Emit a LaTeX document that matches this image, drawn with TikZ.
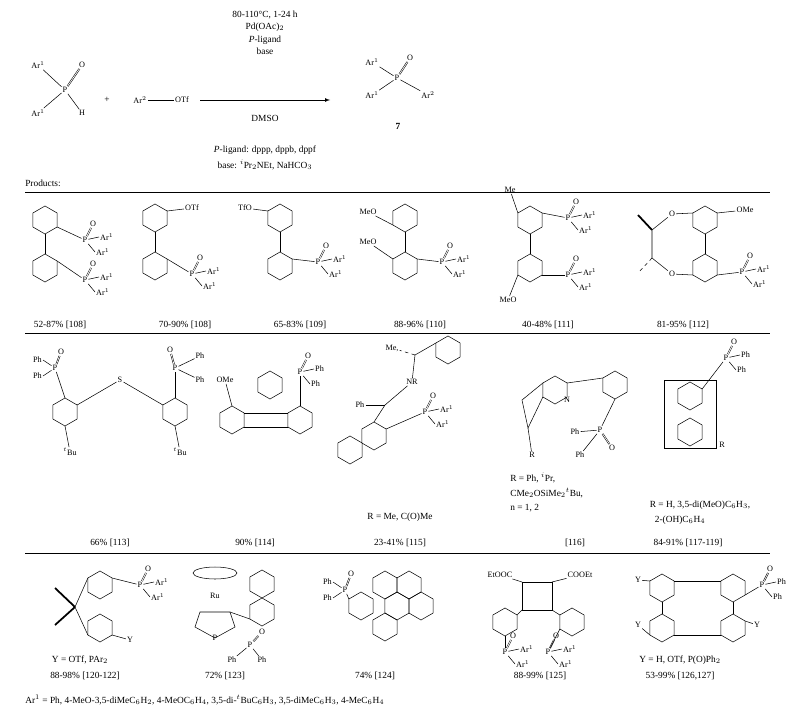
\documentclass[tikz,border=0pt]{standalone}
\usepackage{fontspec}
\setmainfont{Liberation Serif}
\usetikzlibrary{arrows,positioning,calc}

\newcommand{\rr}{14}
% ring of six bonds, centre named
\newcommand{\hexa}[3]{\coordinate (#1) at (#2,#3);
  \draw[shift={(#2,#3)}] (30:\rr)--(90:\rr)--(150:\rr)--(210:\rr)--(270:\rr)--(330:\rr)--cycle;}
% ring vertex
\newcommand{\vx}[2]{($(#1)+(#2:\rr)$)}
% phosphine oxide P(O)R2
\newcommand{\phos}[5]{\node[atom] (#1) at (#2,#3) {P};
  \node[atom] (#1o) at (#2+8,#3-16) {O};
  \node[atom,anchor=west] (#1a) at (#2+14,#3-3) {#4};
  \node[atom,anchor=west] (#1b) at (#2+10,#3+12) {#5};
  \draw[double] (#1) -- (#1o);
  \draw (#1) -- (#1a.west);
  \draw (#1) -- (#1b.west);}
% P(O)Ph2 with both Ph on the left
\newcommand{\phosl}[3]{\node[atom] (#1) at (#2,#3) {P};
  \node[atom] (#1o) at (#2+6,#3-16) {O};
  \node[atom,anchor=east] (#1a) at (#2-12,#3-8) {Ph};
  \node[atom,anchor=east] (#1b) at (#2-12,#3+8) {Ph};
  \draw[double] (#1) -- (#1o);
  \draw (#1) -- (#1a.east);
  \draw (#1) -- (#1b.east);}

\begin{document}
\begin{tikzpicture}[x=0.03cm, y=-0.03cm, line width=0.45pt, font=\footnotesize,
  atom/.style={inner sep=0.8pt, font=\scriptsize},
  txt/.style={inner sep=0pt, font=\footnotesize},
  sep/.style={line width=0.5pt}]
\useasboundingbox (0,0) rectangle (795,708);

% reaction
\node[atom] (ra1) at (38,65) {Ar$^1$};
\node[atom] (ra2) at (38,113) {Ar$^1$};
\node[atom] (rp) at (65,90) {P};
\node[atom] (ro) at (82,65) {O};
\node[atom] (rh) at (82,113) {H};
\draw (ra1) -- (rp); \draw (ra2) -- (rp); \draw (rp) -- (rh); \draw[double] (rp) -- (ro);
\node[txt] (plus) at (107,100) {+};
\node[atom] (ar2) at (140,100) {Ar$^2$};
\node[atom] (otf) at (182,100) {OTf};
\draw (ar2) -- (otf);
\node[txt] (c1) at (265,15) {80-110°C, 1-24 h};
\node[txt,below=3pt of c1] (c2) {Pd(OAc)$_2$};
\node[txt,below=3pt of c2] (c3) {\emph{P}-ligand};
\node[txt,below=3pt of c3] (c4) {base};
\node[txt] (c5) at (265,118) {DMSO};
\coordinate (arS) at (200,100);
\coordinate (arE) at (330,100);
\draw[-latex] (arS) -- (arE);
\node[atom] (pa1) at (372,62) {Ar$^1$};
\node[atom] (pa2) at (372,95) {Ar$^1$};
\node[atom] (pp) at (397,78) {P};
\node[atom] (po) at (410,58) {O};
\node[atom] (pa3) at (428,95) {Ar$^2$};
\draw (pa1) -- (pp); \draw (pa2) -- (pp); \draw (pp) -- (pa3); \draw[double] (pp) -- (po);
\node[txt,font=\footnotesize\bfseries] (seven) at (398,126) {7};
\node[txt] (lig) at (265,150) {\emph{P}-ligand: dppp, dppb, dppf};
\node[txt] (bas) at (265,165) {base: $^i$Pr$_2$NEt, NaHCO$_3$};
\node[txt,anchor=west] (prod) at (25,183) {Products:};

\draw[sep] (25,192) -- (770,192);
\draw[sep] (25,333) -- (770,333);
\draw[sep] (25,553) -- (770,553);

% row 1
\hexa{a1}{45}{220} \hexa{a2}{45}{268} \draw \vx{a1}{90} -- \vx{a2}{270};
\phos{p1}{85}{240}{Ar$^1$}{Ar$^1$} \phos{p2}{85}{280}{Ar$^1$}{Ar$^1$}
\draw \vx{a1}{30} -- (p1); \draw \vx{a2}{330} -- (p2);
\node[txt] (y1) at (60,325) {52-87\% [108]};

\hexa{b1}{155}{218} \hexa{b2}{155}{266} \draw \vx{b1}{90} -- \vx{b2}{270};
\node[atom] (b1o) at (192,208) {OTf}; \draw \vx{b1}{330} -- (b1o);
\phos{p3}{192}{274}{Ar$^1$}{Ar$^1$} \draw \vx{b2}{330} -- (p3);
\node[txt] (y2) at (185,325) {70-90\% [108]};

\hexa{c1r}{280}{218} \hexa{c2r}{280}{266} \draw \vx{c1r}{90} -- \vx{c2r}{270};
\node[atom] (c1o) at (245,208) {TfO}; \draw \vx{c1r}{210} -- (c1o);
\phos{p4}{318}{262}{Ar$^1$}{Ar$^1$} \draw \vx{c2r}{330} -- (p4);
\node[txt] (y3) at (300,325) {65-83\% [109]};

\hexa{d1}{405}{218} \hexa{d2}{405}{266} \draw \vx{d1}{90} -- \vx{d2}{270};
\node[atom] (d1o) at (368,212) {MeO}; \draw \vx{d1}{150} -- (d1o);
\node[atom] (d2o) at (368,242) {MeO}; \draw \vx{d2}{210} -- (d2o);
\phos{p5}{442}{262}{Ar$^1$}{Ar$^1$} \draw \vx{d2}{330} -- (p5);
\node[txt] (y4) at (420,325) {88-96\% [110]};

\hexa{e1}{530}{220} \hexa{e2}{530}{268} \draw \vx{e1}{90} -- \vx{e2}{270};
\node[atom] (eme) at (510,190) {Me}; \draw \vx{e1}{210} -- (eme);
\node[atom] (emo) at (508,300) {MeO}; \draw \vx{e2}{150} -- (emo);
\phos{p6}{568}{218}{Ar$^1$}{Ar$^1$} \phos{p7}{568}{275}{Ar$^1$}{Ar$^1$}
\draw \vx{e1}{330} -- (p6); \draw \vx{e2}{30} -- (p7);
\node[txt] (y5) at (548,325) {40-48\% [111]};

\hexa{f1}{705}{220} \hexa{f2}{705}{268} \draw \vx{f1}{90} -- \vx{f2}{270};
\node[atom] (fo1) at (672,214) {O}; \node[atom] (fo2) at (672,274) {O};
\draw \vx{f1}{210} -- (fo1); \draw \vx{f2}{150} -- (fo2);
\coordinate (fc1) at (652,230); \coordinate (fc2) at (652,258);
\draw (fo1) -- (fc1) -- (fc2) -- (fo2);
\draw[line width=1.5pt] (fc1) -- (638,215); \draw[dashed] (fc2) -- (638,273);
\node[atom] (fme) at (745,210) {OMe}; \draw \vx{f1}{330} -- (fme);
\phos{p8}{742}{272}{Ar$^1$}{Ar$^1$} \draw \vx{f2}{30} -- (p8);
\node[txt] (y6) at (683,325) {81-95\% [112]};

% row 2
\hexa{g1}{65}{412} \hexa{g2}{175}{412}
\node[atom] (gs) at (120,380) {S};
\draw \vx{g1}{330} -- (gs); \draw \vx{g2}{210} -- (gs);
\phosl{gp1}{55}{368}
\draw \vx{g1}{270} -- (gp1);
\node[atom] (gp2) at (175,368) {P}; \node[atom] (go2) at (170,350) {O};
\node[atom] (gh3) at (200,356) {Ph}; \node[atom] (gh4) at (200,380) {Ph};
\draw[double] (gp2) -- (go2); \draw (gp2) -- (gh3); \draw (gp2) -- (gh4);
\draw \vx{g2}{270} -- (gp2);
\node[atom] (gb1) at (70,452) {$^t$Bu}; \node[atom] (gb2) at (180,452) {$^t$Bu};
\draw \vx{g1}{90} -- (gb1); \draw \vx{g2}{90} -- (gb2);
\node[txt] (y7) at (110,543) {66\% [113]};

\hexa{h1}{232}{420} \hexa{h2}{300}{420}
\draw \vx{h1}{330} -- \vx{h2}{210}; \draw \vx{h1}{30} -- \vx{h2}{150};
\hexa{h3}{270}{385}
\node[atom] (hom) at (225,380) {OMe}; \draw \vx{h1}{270} -- (hom);
\phos{hp}{300}{372}{Ph}{Ph} \draw \vx{h2}{270} -- (hp);
\node[txt] (y8) at (255,543) {90\% [114]};

\hexa{i1}{350}{450} \hexa{i2}{374}{436}
\node[atom] (iph) at (360,405) {Ph};
\coordinate (ic) at (385,405);
\draw (iph) -- (ic); \draw \vx{i2}{270} -- (ic);
\node[atom] (inr) at (412,382) {NR}; \draw (ic) -- (inr);
\node[atom] (ime) at (392,348) {Me,}; \coordinate (ic2) at (415,355);
\draw (inr) -- (ic2); \draw[dashed] (ic2) -- (ime);
\hexa{i3}{448}{350} \draw (ic2) -- \vx{i3}{210};
\phos{ip}{425}{412}{Ar$^1$}{Ar$^1$} \draw \vx{i2}{330} -- (ip);
\node[txt] (r9) at (400,517) {R = Me, C(O)Me};
\node[txt] (y9) at (400,543) {23-41\% [115]};

\hexa{j1}{555}{390} \node[atom] (jn) at (567,400) {N};
\hexa{j2}{615}{385} \draw \vx{j1}{330} -- \vx{j2}{210};
\coordinate (jc1) at (522,400); \coordinate (jc2) at (528,428);
\draw \vx{j1}{210} -- (jc1) -- (jc2) -- \vx{j1}{150};
\node[atom] (jr) at (532,455) {R}; \draw (jc2) -- (jr);
\node[atom] (jp) at (600,430) {P}; \node[atom] (jo) at (612,448) {O};
\node[atom] (jph1) at (575,432) {Ph}; \node[atom] (jph2) at (580,455) {Ph};
\draw[double] (jp) -- (jo); \draw (jp) -- (jph1); \draw (jp) -- (jph2);
\draw \vx{j2}{90} -- (jp);
\node[txt,anchor=west] (r10a) at (510,478) {R = Ph, $^i$Pr,};
\node[txt,anchor=west] (r10b) at (510,493) {CMe$_2$OSiMe$_2$$^t$Bu,};
\node[txt,anchor=west] (r10c) at (510,508) {n = 1, 2};
\node[txt] (y10) at (575,543) {[116]};

\hexa{k1}{690}{396} \hexa{k2}{690}{432}
\draw (664,380) rectangle (716,448);
\phos{kp}{726}{358}{Ph}{Ph} \draw \vx{k1}{330} -- (kp);
\node[atom] (kr) at (722,445) {R};
\node[txt] (r11a) at (700,505) {R = H, 3,5-di(MeO)C$_6$H$_3$,};
\node[txt] (r11b) at (680,520) {2-(OH)C$_6$H$_4$};
\node[txt] (y11) at (688,543) {84-91\% [117-119]};

% row 3
\hexa{l1}{100}{585} \hexa{l2}{100}{628}
\coordinate (lsp) at (75,607); \draw \vx{l1}{210} -- (lsp) -- \vx{l2}{150};
\draw[line width=1.5pt] (lsp) -- (55,588); \draw[line width=1.5pt] (lsp) -- (55,625);
\phos{lp}{140}{585}{Ar$^1$}{Ar$^1$} \draw \vx{l1}{330} -- (lp);
\node[atom] (ly) at (130,640) {Y}; \draw \vx{l2}{30} -- (ly);
\node[txt] (r12) at (80,660) {Y = OTf, PAr$_2$};
\node[txt] (y12) at (85,676) {88-98\% [120-122]};

\draw (215,573) ellipse (22 and 6);
\node[atom] (ru) at (215,596) {Ru};
\draw (200,612) -- (230,612) -- (235,627) -- (215,638) -- (195,627) -- cycle;
\node[atom] (phol) at (215,638) {P};
\hexa{m1}{262}{612} \hexa{m2}{262}{584}
\draw (230,612) -- \vx{m1}{150};
\node[atom] (mp) at (250,645) {P}; \node[atom] (mo) at (262,632) {O};
\node[atom] (mph1) at (232,660) {Ph}; \node[atom] (mph2) at (262,660) {Ph};
\draw[double] (mp) -- (mo); \draw (mp) -- (mph1); \draw (mp) -- (mph2);
\node[txt] (y13) at (225,676) {72\% [123]};

\hexa{n1}{385}{585} \hexa{n2}{409}{585} \hexa{n3}{397}{606}
\hexa{n4}{421}{606} \hexa{n5}{385}{627} \hexa{n6}{361}{606}
\phosl{np}{345}{590}
\draw (np) -- \vx{n6}{210};
\node[txt] (y14) at (375,676) {74\% [124]};

\node[atom] (oe1) at (500,575) {EtOOC}; \node[atom] (oe2) at (580,575) {COOEt};
\draw (522,582) rectangle (552,610);
\draw (522,582) -- (oe1); \draw (552,582) -- (oe2);
\hexa{o1}{505}{622} \hexa{o2}{572}{622}
\draw (522,610) -- \vx{o1}{330}; \draw (552,610) -- \vx{o2}{210};
\phos{op1}{505}{652}{Ar$^1$}{Ar$^1$} \phos{op2}{548}{652}{Ar$^1$}{Ar$^1$}
\draw \vx{o1}{90} -- (op1); \draw \vx{o2}{150} -- (op2);
\node[txt] (y15) at (540,676) {88-99\% [125]};

\hexa{q1}{662}{588} \hexa{q2}{733}{588} \hexa{q3}{662}{628} \hexa{q4}{733}{628}
\draw \vx{q1}{330} -- \vx{q2}{210}; \draw \vx{q3}{30} -- \vx{q4}{150};
\draw \vx{q1}{90} -- \vx{q3}{270}; \draw \vx{q2}{90} -- \vx{q4}{270};
\node[atom] (qy1) at (638,580) {Y}; \node[atom] (qy2) at (638,625) {Y};
\node[atom] (qy3) at (757,625) {Y};
\draw \vx{q1}{210} -- (qy1); \draw \vx{q3}{150} -- (qy2); \draw \vx{q4}{330} -- (qy3);
\phos{qp}{762}{585}{Ph}{Ph} \draw \vx{q2}{30} -- (qp);
\node[txt] (r16) at (680,660) {Y = H, OTf, P(O)Ph$_2$};
\node[txt] (y16) at (680,676) {53-99\% [126,127]};

\node[txt,anchor=west] (ar1) at (25,700) {Ar$^1$ = Ph, 4-MeO-3,5-diMeC$_6$H$_2$, 4-MeOC$_6$H$_4$, 3,5-di-$^t$BuC$_6$H$_3$, 3,5-diMeC$_6$H$_3$, 4-MeC$_6$H$_4$};
\end{tikzpicture}
\end{document}
